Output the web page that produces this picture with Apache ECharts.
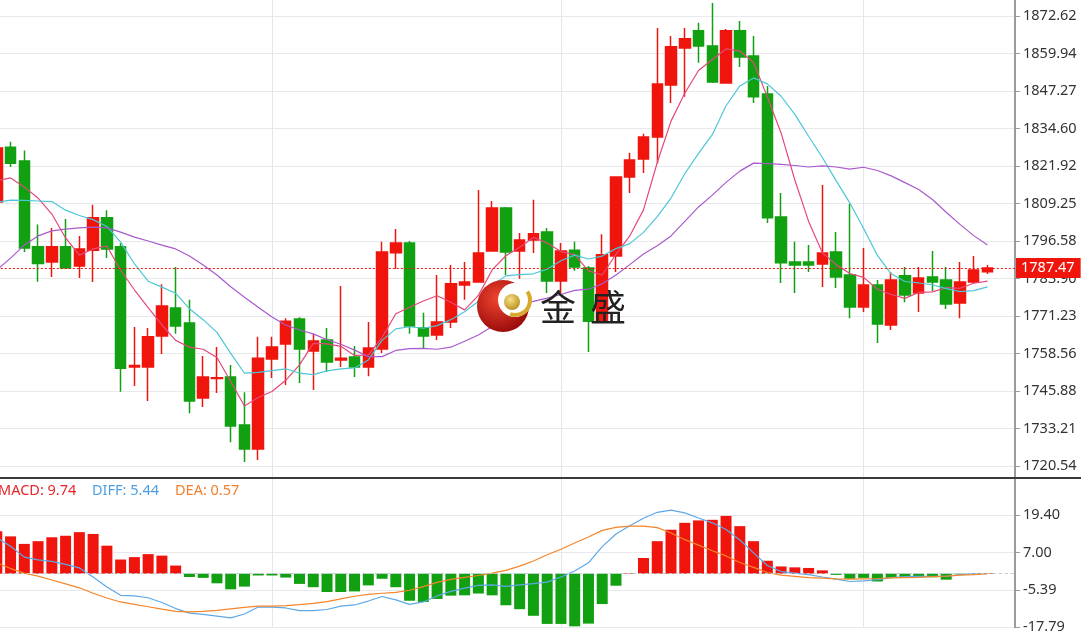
<!DOCTYPE html>
<html><head><meta charset="utf-8">
<script src="https://cdn.jsdelivr.net/npm/echarts@6.0.0/dist/echarts.min.js"></script>
<style>html,body{margin:0;padding:0;background:#fff;overflow:hidden}#c{width:1081px;height:634px}</style>
</head><body><div id="c"></div>
<script>
// ---- candle data (one entry per bar) ----
const opens = [1809.8,1828.3,1823.6,1794.6,1789.5,1794.6,1788.1,1793.5,1804.4,1794.6,
1754.0,1754.0,1764.5,1773.9,1768.9,1743.5,1750.1,1750.6,1734.4,1726.3,
1756.7,1761.8,1770.2,1759.4,1763.1,1756.4,1757.4,1754.0,1760.1,1792.6,
1795.9,1767.2,1764.8,1769.2,1781.7,1782.7,1793.2,1807.7,1793.2,1796.9,
1799.6,1783.1,1793.5,1787.5,1769.2,1791.5,1818.2,1824.3,1831.7,1849.3,
1861.8,1867.6,1862.5,1850.0,1867.6,1859.1,1846.3,1804.7,1789.5,1789.5,
1788.8,1792.9,1785.1,1774.3,1781.7,1768.2,1784.8,1779.0,1784.4,1783.4,
1775.6,1782.7,1786.2];
const closes = [1828.0,1822.9,1794.2,1789.0,1794.6,1787.5,1793.9,1804.4,1793.9,1753.6,
1754.5,1764.2,1774.6,1767.9,1742.5,1750.6,1750.4,1734.1,1726.3,1757.0,
1760.8,1769.5,1760.1,1762.8,1755.7,1757.0,1754.0,1760.4,1792.9,1795.9,
1767.9,1764.5,1769.2,1782.1,1782.7,1792.5,1807.7,1792.9,1796.9,1799.0,
1783.1,1793.2,1787.8,1769.5,1791.9,1818.2,1824.0,1831.7,1849.6,1862.2,
1864.9,1862.5,1850.3,1867.6,1858.8,1845.3,1804.4,1789.2,1788.5,1788.5,
1792.5,1784.4,1774.3,1781.7,1768.5,1783.4,1778.3,1784.1,1782.7,1775.3,
1782.7,1786.8,1787.47];
const lows = [1806.5,1821.6,1792.9,1782.8,1784.4,1787.5,1784.1,1782.7,1790.8,1745.6,
1747.6,1742.5,1758.4,1765.2,1738.4,1740.5,1745.2,1728.6,1721.9,1722.6,
1750.3,1747.9,1748.6,1746.2,1752.3,1754.0,1750.6,1750.9,1758.7,1787.1,
1765.2,1760.4,1763.1,1767.2,1776.7,1782.7,1793.2,1785.1,1783.8,1792.5,
1779.0,1779.0,1786.5,1759.1,1769.2,1786.1,1812.8,1819.6,1822.9,1843.2,
1845.3,1856.8,1850.0,1850.0,1855.4,1843.2,1802.7,1782.4,1779.0,1786.1,
1781.0,1780.7,1770.5,1772.6,1762.1,1766.5,1775.9,1772.6,1779.7,1773.6,
1770.5,1782.1,1785.4];
const highs = [1830.5,1830.1,1827.2,1802.2,1801.0,1804.0,1798.3,1808.8,1807.0,1795.8,
1767.5,1767.2,1782.0,1787.8,1776.7,1757.7,1760.8,1754.7,1745.5,1764.2,
1764.2,1770.5,1770.8,1765.2,1767.2,1781.4,1761.1,1769.2,1796.3,1800.6,
1796.6,1772.3,1785.1,1788.5,1789.5,1813.8,1810.1,1808.1,1799.3,1810.5,
1801.0,1795.9,1796.3,1788.1,1798.9,1818.5,1826.4,1832.8,1868.6,1865.9,
1868.6,1870.3,1877.0,1868.2,1870.9,1865.9,1849.0,1812.8,1796.3,1795.2,
1815.5,1799.6,1809.1,1794.2,1783.4,1786.1,1787.8,1787.8,1793.2,1787.8,
1789.5,1791.5,1788.5];

// ---- moving averages ----
const ma5 = [1816.9,1817.9,1814.8,1811.1,1805.7,1797.6,1791.8,1793.9,1794.9,1786.7,
1780.1,1774.1,1768.2,1763.0,1760.7,1760.0,1757.2,1749.1,1740.8,1743.7,
1745.7,1749.5,1754.7,1762.0,1761.8,1761.0,1757.9,1758.0,1764.0,1772.0,
1774.2,1776.3,1778.1,1775.9,1773.3,1778.2,1786.8,1791.6,1794.5,1797.8,
1795.9,1793.0,1792.0,1786.5,1785.1,1792.1,1798.3,1807.1,1823.1,1837.1,
1846.5,1854.2,1857.9,1861.5,1860.8,1856.9,1845.3,1833.1,1817.2,1803.2,
1792.6,1788.6,1785.6,1784.3,1780.3,1778.5,1777.2,1779.2,1779.4,1780.8,
1780.6,1782.3,1783.0];
const ma10 = [1809.6,1810.4,1810.3,1810.1,1809.9,1807.0,1805.2,1803.8,1801.5,1796.2,
1788.9,1783.0,1781.0,1778.9,1773.7,1770.0,1765.7,1758.6,1751.9,1752.2,
1752.8,1753.4,1751.9,1751.4,1752.7,1753.4,1753.7,1756.4,1763.0,1766.9,
1767.6,1767.1,1768.0,1770.0,1772.7,1776.2,1781.6,1784.8,1785.2,1785.5,
1787.1,1789.9,1791.8,1790.5,1791.5,1794.0,1795.7,1799.5,1804.8,1811.1,
1819.3,1826.2,1832.5,1842.3,1849.0,1851.7,1849.7,1845.5,1839.4,1832.0,
1824.8,1817.0,1809.4,1800.8,1791.7,1785.5,1782.9,1782.4,1781.8,1780.5,
1779.5,1779.8,1781.1];
const ma20 = [1786.8,1790.8,1795.2,1798.3,1800.0,1800.6,1801.0,1801.3,1801.0,1799.6,
1797.9,1796.6,1795.2,1793.9,1791.5,1788.5,1785.1,1781.1,1777.6,1774.2,
1770.9,1768.2,1766.5,1765.2,1763.2,1761.7,1759.7,1757.5,1757.5,1759.6,
1760.2,1760.3,1760.0,1760.7,1762.7,1764.8,1767.7,1770.6,1774.1,1776.2,
1777.3,1778.5,1779.9,1780.3,1782.1,1785.1,1788.6,1792.2,1795.0,1798.3,
1803.2,1808.1,1812.1,1816.4,1820.2,1822.9,1822.7,1822.5,1822.1,1821.6,
1822.0,1821.6,1820.9,1821.5,1820.4,1818.6,1816.3,1814.0,1810.6,1806.3,
1802.2,1798.4,1795.2];

// ---- MACD panel ----
const macdHist = [14.1,12.4,9.9,10.8,12.1,12.6,13.8,13.2,9.3,4.7,
5.5,6.5,6.0,2.7,-1.1,-1.4,-3.2,-5.2,-4.3,-0.6,
-0.6,-1.3,-3.4,-4.5,-6.1,-6.1,-5.9,-3.9,-1.7,-4.5,
-9.0,-9.4,-8.4,-7.3,-7.2,-6.6,-7.2,-10.5,-11.8,-14.0,
-16.7,-16.7,-17.5,-16.6,-10.1,-4.0,0.2,5.2,10.8,14.6,
16.9,17.7,17.9,19.2,15.8,10.8,4.3,2.4,2.1,1.9,
1.1,-0.4,-1.7,-1.4,-2.6,-1.4,-1.4,-1.2,-1.2,-2.0,
-0.2,0.1,0.2];
const diff = [11.9,9.1,5.5,4.6,4.1,3.1,1.9,-1.1,-4.4,-7.2,
-7.4,-8.0,-9.6,-11.6,-13.1,-13.5,-14.1,-14.7,-13.4,-11.1,
-11.1,-11.4,-12.3,-12.3,-11.9,-10.8,-10.4,-9.1,-7.6,-8.7,
-10.2,-9.4,-7.4,-5.9,-4.8,-3.9,-3.7,-4.2,-3.7,-3.3,
-2.8,-1.1,0.9,3.6,9.0,13.2,15.9,18.4,20.4,21.1,
20.2,18.5,16.9,14.7,11.2,6.9,2.7,0.7,0.2,-0.3,
-1.1,-1.8,-2.6,-2.4,-2.0,-1.3,-1.0,-0.9,-0.9,-0.9,
-0.3,0.0,0.0];
const dea = [3.6,1.7,0.2,-0.8,-2.1,-3.4,-4.7,-6.5,-8.1,-9.4,
-10.2,-11.0,-11.8,-12.5,-12.7,-12.5,-12.2,-11.7,-11.2,-10.8,
-10.8,-10.6,-10.3,-9.9,-9.3,-8.4,-7.5,-6.9,-6.5,-6.2,
-5.5,-4.3,-2.9,-1.9,-1.2,-0.6,0.2,1.1,2.5,4.2,
6.3,8.1,10.2,12.2,14.4,15.4,15.8,15.8,15.3,13.5,
11.3,9.5,7.6,5.9,3.7,2.1,0.4,-0.5,-0.9,-1.3,
-1.5,-1.7,-1.8,-1.7,-1.6,-1.4,-1.3,-1.2,-1.0,-0.8,
-0.5,-0.3,0.0];

// ---- tick labels ----
const priceTicks = ['1720.54','1733.21','1745.88','1758.56','1771.23','1783.90','1796.58',
  '1809.25','1821.92','1834.60','1847.27','1859.94','1872.62'];
const macdTicks = ['-17.79','-5.39','7.00','19.40'];
const dayBreaks = [20, 41, 63];
const emptySlots = 2;
const lastPrice = 1787.47;
const legendMACD = '9.74', legendDIFF = '5.44', legendDEA = '0.57';

// ---- build ----
const RED = '#f0150c', GREEN = '#11a011';
const FONT = '"Noto Sans", "DejaVu Sans", sans-serif';
const slots = Array.from({length: closes.length + emptySlots}, (_, i) => String(i));
const candles = closes.map((c, i) => [opens[i], c, lows[i], highs[i]]);
const priceVals = priceTicks.map(Number);
const macdVals = macdTicks.map(Number);
const macdStep = (macdVals[macdVals.length - 1] - macdVals[0]) / (macdVals.length - 1);
const pickLabel = (list) => (v) => {
  const t = list.find(s => Math.abs(Number(s) - v) < 0.02);
  return t === undefined ? '' : t;
};

const xBase = (gi) => ({
  type: 'category', gridIndex: gi, data: slots, boundaryGap: false,
  axisLine: {show: false}, axisTick: {show: false}, axisLabel: {show: false},
  splitLine: {show: true, interval: (i) => dayBreaks.includes(i), lineStyle: {color: '#e2e8ee', width: 1}}
});
const yCommon = {
  position: 'right',
  axisLine: {show: true, lineStyle: {color: '#9b9b9b', width: 2}},
  axisTick: {show: true, length: 5, lineStyle: {color: '#9b9b9b'}},
  splitLine: {show: true, lineStyle: {color: '#e7e9ed', width: 1}}
};
const labelStyle = {color: '#333', fontSize: 14.5, fontFamily: FONT, margin: 8};

const chart = echarts.init(document.getElementById('c'), null, {renderer: 'canvas'});
chart.setOption({
  animation: false,
  backgroundColor: '#fff',
  grid: [
    {left: -3.2, right: 66, top: 0, height: 478, outerBoundsMode: 'none', containLabel: false},
    {left: -3.2, right: 66, top: 478, height: 149.2, outerBoundsMode: 'none', containLabel: false}
  ],
  xAxis: [xBase(0), xBase(1)],
  yAxis: [
    Object.assign({}, yCommon, {
      type: 'value', gridIndex: 0, min: 1716.49, max: 1878.03,
      axisTick: Object.assign({}, yCommon.axisTick, {customValues: priceVals}),
      axisLabel: Object.assign({}, labelStyle, {customValues: priceVals, formatter: pickLabel(priceTicks)})
    }),
    Object.assign({}, yCommon, {
      type: 'value', gridIndex: 1, min: macdVals[0], max: macdVals[macdVals.length - 1] + macdStep,
      interval: macdStep,
      axisLabel: Object.assign({}, labelStyle, {formatter: pickLabel(macdTicks), showMaxLabel: false})
    })
  ],
  series: [
    {
      type: 'candlestick', xAxisIndex: 0, yAxisIndex: 0, data: candles, barWidth: 11,
      itemStyle: {color: RED, color0: GREEN, borderColor: RED, borderColor0: GREEN, borderWidth: 1.5},
      markLine: {
        silent: true, symbol: ['none', 'none'], animation: false,
        data: [{yAxis: lastPrice}],
        lineStyle: {color: RED, type: [2, 2], width: 1},
        label: {show: true, position: 'end', formatter: lastPrice.toFixed(2), color: '#fff',
          backgroundColor: RED, padding: [3, 6, 2, 5], fontSize: 14.5, fontFamily: FONT, distance: 1}
      }
    },
    {type: 'line', xAxisIndex: 0, yAxisIndex: 0, data: ma5, symbol: 'none', lineStyle: {color: '#e5487d', width: 1.2}},
    {type: 'line', xAxisIndex: 0, yAxisIndex: 0, data: ma10, symbol: 'none', lineStyle: {color: '#4cc6d6', width: 1.2}},
    {type: 'line', xAxisIndex: 0, yAxisIndex: 0, data: ma20, symbol: 'none', lineStyle: {color: '#a95acb', width: 1.2}},
    {
      type: 'bar', xAxisIndex: 1, yAxisIndex: 1, data: macdHist, barWidth: 11,
      itemStyle: {color: (p) => p.value >= 0 ? RED : GREEN},
      markLine: {
        silent: true, symbol: ['none', 'none'], animation: false, data: [{yAxis: 0}],
        lineStyle: {color: '#b9cad9', type: [3, 3], width: 1}, label: {show: false}
      }
    },
    {type: 'line', xAxisIndex: 1, yAxisIndex: 1, data: diff, symbol: 'none', lineStyle: {color: '#5ea8e8', width: 1.2}},
    {type: 'line', xAxisIndex: 1, yAxisIndex: 1, data: dea, symbol: 'none', lineStyle: {color: '#f5852a', width: 1.2}}
  ],
  graphic: [
    {type: 'line', shape: {x1: 0, y1: 478, x2: 1081, y2: 478}, style: {stroke: '#3a3a3a', lineWidth: 2}, z: 100},
    {type: 'text', x: -2, y: 491, z: 100, style: {text: 'MACD: ' + legendMACD, fill: '#e8262b', fontSize: 14.5, fontFamily: FONT, verticalAlign: 'middle'}},
    {type: 'text', x: 92, y: 491, z: 100, style: {text: 'DIFF: ' + legendDIFF, fill: '#4f9fe0', fontSize: 14.5, fontFamily: FONT, verticalAlign: 'middle'}},
    {type: 'text', x: 175, y: 491, z: 100, style: {text: 'DEA: ' + legendDEA, fill: '#f08030', fontSize: 14.5, fontFamily: FONT, verticalAlign: 'middle'}},
    // watermark logo
    {type: 'circle', z: 50, shape: {cx: 503, cy: 306, r: 26},
      style: {fill: new echarts.graphic.RadialGradient(0.4, 0.35, 0.7, [{offset: 0, color: '#f0452f'}, {offset: 1, color: '#960909'}])}},
    {type: 'circle', z: 51, shape: {cx: 515, cy: 300, r: 17}, style: {fill: '#ffffff'}},
    {type: 'arc', z: 52, shape: {cx: 515, cy: 300, r: 15, startAngle: -0.6, endAngle: 1.9},
      style: {stroke: '#d8a92a', lineWidth: 4, fill: 'none'}},
    {type: 'circle', z: 53, shape: {cx: 512, cy: 302, r: 8},
      style: {fill: new echarts.graphic.RadialGradient(0.4, 0.35, 0.7, [{offset: 0, color: '#f6e08a'}, {offset: 1, color: '#b88d17'}])}},
    {type: 'text', x: 540, y: 307, z: 54, style: {text: '金', fill: '#222', fontSize: 36, fontFamily: '"Noto Sans CJK SC"', verticalAlign: 'middle'}},
    {type: 'text', x: 590, y: 307, z: 54, style: {text: '盛', fill: '#222', fontSize: 36, fontFamily: '"Noto Sans CJK SC"', verticalAlign: 'middle'}}
  ]
});
</script>
</body></html>
